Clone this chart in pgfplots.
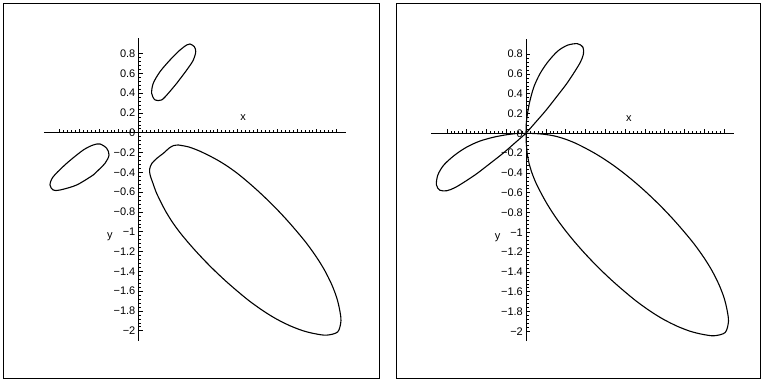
\documentclass[border=0pt]{standalone}
\usepackage{pgfplots}
\pgfplotsset{compat=1.18}
\usepackage{fontspec}
\setmainfont{Liberation Sans}
\begin{document}
\begin{tikzpicture}
\useasboundingbox (0pt,0pt) rectangle (762pt,381pt);
\draw[line width=0.8pt] (3pt,3pt) rectangle (379pt,378pt);
\draw[line width=0.8pt] (396pt,3pt) rectangle (760pt,378pt);
\pgfplotsset{
  crv/.style={black, line width=1.1pt, smooth, mark=none},
  maple/.style={
  axis lines=middle, x=99pt, y=99pt,
  xmin=-0.955, xmax=2.1, ymin=-2.1, ymax=0.955,
  axis line style={-, line width=0.7pt},
  hide obscured x ticks=false, hide obscured y ticks=false,
  xtick={-0.8,-0.6,-0.4,-0.2,0,0.2,0.4,0.6,0.8,1,1.2,1.4,1.6,1.8,2},
  xticklabels={},
  ytick={-2,-1.8,-1.6,-1.4,-1.2,-1,-0.8,-0.6,-0.4,-0.2,0,0.2,0.4,0.6,0.8},
  yticklabels={−2,−1.8,−1.6,−1.4,−1.2,−1,−0.8,−0.6,−0.4,−0.2,\raisebox{-7pt}{0},0.2,0.4,0.6,0.8},
  minor x tick num=4, minor y tick num=4,
  tick style={black, line width=0.5pt},
  major tick length=4pt, minor tick length=2.5pt, tick align=inside,
  yticklabel style={font=\fontsize{11}{12}\selectfont, anchor=east, inner sep=0pt, xshift=-3pt},
  clip=false,
}}
% left: implicit plot with gaps near the origin
\begin{axis}[maple, at={(138.5pt,248.3pt)}, anchor=origin]
\addplot[crv] coordinates {(0.386,0.499) (0.301,0.398) (0.234,0.331) (0.167,0.331) (0.133,0.398) (0.149,0.499) (0.217,0.616) (0.318,0.734) (0.419,0.835) (0.487,0.886) (0.520,0.896) (0.564,0.869) (0.578,0.818) (0.554,0.734) (0.487,0.633) (0.386,0.499)};
\addplot[crv] coordinates {(-0.457,-0.427) (-0.624,-0.528) (-0.793,-0.579) (-0.861,-0.579) (-0.894,-0.528) (-0.861,-0.444) (-0.725,-0.309) (-0.558,-0.175) (-0.457,-0.124) (-0.389,-0.114) (-0.321,-0.158) (-0.298,-0.225) (-0.338,-0.309) (-0.457,-0.427)};
\addplot[crv] coordinates {(0.402,-0.124) (0.5,-0.142) (0.6,-0.178) (0.7,-0.225) (0.8,-0.278) (0.9,-0.340) (1.0,-0.412) (1.1,-0.494) (1.2,-0.582) (1.3,-0.676) (1.4,-0.776) (1.5,-0.883) (1.6,-0.998) (1.7,-1.12) (1.8,-1.26) (1.88,-1.39) (1.95,-1.53) (2.0,-1.66) (2.03,-1.78) (2.045,-1.90) (2.012,-2.012) (1.90,-2.045) (1.78,-2.03) (1.66,-2.0) (1.53,-1.95) (1.39,-1.88) (1.26,-1.8) (1.12,-1.7) (0.998,-1.6) (0.883,-1.5) (0.776,-1.4) (0.676,-1.3) (0.582,-1.2) (0.494,-1.1) (0.412,-1.0) (0.340,-0.9) (0.278,-0.8) (0.225,-0.7) (0.178,-0.6) (0.142,-0.5) (0.118,-0.43) (0.112,-0.37) (0.135,-0.31) (0.19,-0.255) (0.255,-0.205) (0.31,-0.155) (0.355,-0.13) (0.402,-0.124)};
\node[font=\fontsize{11}{12}\selectfont] at (axis cs:1.056,0.148) {x};
\node[font=\fontsize{11}{12}\selectfont] at (axis cs:-0.288,-1.055) {y};
\end{axis}
% right: full curve through the origin
\begin{axis}[maple, at={(526pt,247.7pt)}, anchor=origin]
\addplot[crv] coordinates {(0,0) (0.003,0.1) (0.015,0.2) (0.04,0.33) (0.08,0.47) (0.14,0.6) (0.22,0.72) (0.32,0.83) (0.42,0.89) (0.52,0.905) (0.575,0.87) (0.58,0.8) (0.55,0.72) (0.49,0.62) (0.41,0.5) (0.31,0.37) (0.2,0.23) (0.1,0.115) (0,0)};
\addplot[crv] coordinates {(0,0) (-0.1,-0.003) (-0.2,-0.015) (-0.33,-0.04) (-0.47,-0.08) (-0.6,-0.14) (-0.72,-0.22) (-0.83,-0.32) (-0.89,-0.42) (-0.905,-0.52) (-0.87,-0.575) (-0.8,-0.58) (-0.72,-0.55) (-0.62,-0.49) (-0.5,-0.41) (-0.37,-0.31) (-0.23,-0.2) (-0.115,-0.1) (0,0)};
\addplot[crv] coordinates {(0,0) (0.1,-0.003) (0.2,-0.012) (0.3,-0.03) (0.4,-0.06) (0.5,-0.1) (0.6,-0.15) (0.7,-0.205) (0.8,-0.267) (0.9,-0.336) (1.0,-0.412) (1.1,-0.494) (1.2,-0.582) (1.3,-0.676) (1.4,-0.776) (1.5,-0.883) (1.6,-0.998) (1.7,-1.12) (1.8,-1.26) (1.88,-1.39) (1.95,-1.53) (2.0,-1.66) (2.03,-1.78) (2.045,-1.90) (2.012,-2.012) (1.90,-2.045) (1.78,-2.03) (1.66,-2.0) (1.53,-1.95) (1.39,-1.88) (1.26,-1.8) (1.12,-1.7) (0.998,-1.6) (0.883,-1.5) (0.776,-1.4) (0.676,-1.3) (0.582,-1.2) (0.494,-1.1) (0.412,-1.0) (0.336,-0.9) (0.267,-0.8) (0.205,-0.7) (0.15,-0.6) (0.1,-0.5) (0.06,-0.4) (0.03,-0.3) (0.012,-0.2) (0.003,-0.1) (0,0)};
\node[font=\fontsize{11}{12}\selectfont] at (axis cs:1.04,0.15) {x};
\node[font=\fontsize{11}{12}\selectfont] at (axis cs:-0.286,-1.055) {y};
\end{axis}
\end{tikzpicture}
\end{document}
